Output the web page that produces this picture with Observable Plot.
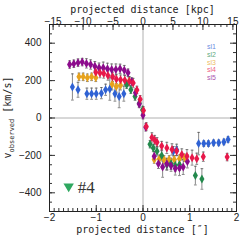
<!DOCTYPE html>
<html><head><meta charset="utf-8">
<script src="https://cdn.jsdelivr.net/npm/d3@7"></script>
<script src="https://cdn.jsdelivr.net/npm/@observablehq/plot@0.6"></script>
<style>
html,body{margin:0;padding:0;background:#fff;}
#c{width:249px;height:249px;overflow:hidden;}
</style></head>
<body><div id="c"></div>
<script>
// ---- data (x in arcsec, v in km/s, e = error) ----
const seriesNames = ["sl1","sl2","sl3","sl4","sl5"];
const seriesColors = ["#2f62d4","#23894c","#e7a21c","#e8184a","#8c0b8c"];

const sl1X = [-1.51,-1.39,-1.20,-1.10,-1.00,-0.89,-0.80,-0.71,-0.60,-0.51,-0.41, 0.65,0.72, 1.19,1.30,1.40,1.51,1.62,1.73,1.82];
const sl1V = [166,151,130,130,130,133,151,155,130,115,130, -178,-170, -137,-137,-137,-133,-133,-128,-115];
const sl1E = [70,40,30,30,30,30,30,60,40,60,40, 25,30, 60,15,15,15,15,15,15];

const sl2X = [-0.35,-0.26,-0.17,-0.08,-0.01, 0.15,0.22,0.30,0.40,0.51,0.60,0.69,0.78, 1.12,1.26];
const sl2V = [178,151,115,79,43, -140,-160,-178,-200,-250,-245,-254,-250, -308,-326];
const sl2E = [20,20,20,20,20, 20,20,25,30,30,30,30,30, 50,55];

const sl3X = [-1.37,-1.28,-1.19,-1.10,-1.01,-0.66,-0.57,-0.48,-0.30, 0.24,0.35,0.45,0.56,0.67,0.78,0.89];
const sl3V = [220,220,215,220,215,180,168,175,195, -222,-218,-222,-222,-222,-218,-213];
const sl3E = [20,20,20,20,20,30,30,25,20, 20,20,20,20,20,20,20];

const sl4X = [-1.01,-0.92,-0.84,-0.75,-0.65,-0.57,-0.48,-0.39,-0.29,-0.21,-0.13,-0.06,0.01,0.07, 0.19,0.25,0.30,0.40,0.51,0.62,0.72,0.83,0.94,1.05,1.15,1.29,1.80];
const sl4V = [245,240,238,227,220,209,205,202,196,187,150,100,40,-45, -104,-118,-130,-150,-160,-168,-177,-195,-204,-212,-218,-207,-209];
const sl4E = [25,25,25,25,25,25,25,25,25,25,20,20,20,20, 25,25,25,25,30,30,25,30,35,40,30,25,20];

const sl5X = [-1.57,-1.48,-1.39,-1.30,-1.21,-1.12,-1.03,-0.94,-0.85,-0.76,-0.67,-0.58,-0.49,-0.40,-0.32,-0.24,-0.16,-0.08,0.00,0.06, 0.24,0.33,0.42,0.51,0.60,0.69,0.78,0.86,0.95];
const sl5V = [286,290,296,299,292,286,277,269,269,263,259,259,263,256,242,195,135,75,15,-50, -205,-245,-262,-245,-255,-270,-268,-262,-232];
const sl5E = [20,20,20,20,25,25,25,25,30,30,30,30,25,25,20,20,20,20,20,20, 25,25,55,30,30,35,40,40,35];

const xTicksMajor = [-2,-1,0,1,2];
const xTicksMinor = d3.range(-20,21).map(i=>i/10);
const kpcPerArcsec = 7.8;
const kpcTicksMajor = [-15,-10,-5,0,5,10,15];
const kpcTicksMinor = d3.range(-15,16);
const yTicksMajor = [-400,-200,0,200,400];
const yTicksMinor = d3.range(-500,501,50);
const markerLabel = ["#4"];
const markerPos = [{x:-1.59, v:-372}];

const xs=[sl1X,sl2X,sl3X,sl4X,sl5X], vs=[sl1V,sl2V,sl3V,sl4V,sl5V], es=[sl1E,sl2E,sl3E,sl4E,sl5E];
const drawOrder = [0,2,1,4,3];
const rows = drawOrder.flatMap(s => xs[s].map((x,i)=>({s:seriesNames[s], x, v:vs[s][i], e:es[s][i]})));

// ---- layout ----
const W=249,H=249, mL=49,mR=13,mT=24,mB=38;
const innerH = H-mT-mB, innerW = W-mL-mR;
const fmt = n => n<0 ? "\u2212"+(-n) : String(n);

const tallDiamond = {draw(ctx,size){const r=Math.sqrt(size/Math.PI);ctx.moveTo(0,-1.5*r);ctx.lineTo(0.85*r,0);ctx.lineTo(0,1.5*r);ctx.lineTo(-0.85*r,0);ctx.closePath();}};
const downTri = {draw(ctx,size){const r=Math.sqrt(size/Math.PI);ctx.moveTo(-r,-0.8*r);ctx.lineTo(r,-0.8*r);ctx.lineTo(0,0.9*r);ctx.closePath();}};

const capW = 0.03;
const plot = Plot.plot({
  width:W, height:H, marginLeft:mL, marginRight:mR, marginTop:mT, marginBottom:mB,
  style:{fontFamily:"'Liberation Sans', Arial, sans-serif", fontSize:"10px", color:"#222", background:"white"},
  x:{domain:[-2,2], axis:null},
  y:{domain:[-500,500], axis:null},
  color:{domain:seriesNames, range:seriesColors},
  marks:[
    Plot.ruleX([0],{stroke:"#b0b0b0", strokeWidth:1}),
    Plot.ruleY([0],{stroke:"#b0b0b0", strokeWidth:1}),
    // ticks (inward)
    Plot.tickX(xTicksMinor,{x:d=>d, insetTop:innerH-3, stroke:"#333"}),
    Plot.tickX(xTicksMajor,{x:d=>d, insetTop:innerH-6, stroke:"#333"}),
    Plot.tickX(kpcTicksMinor,{x:d=>d/kpcPerArcsec, insetBottom:innerH-3, stroke:"#333"}),
    Plot.tickX(kpcTicksMajor,{x:d=>d/kpcPerArcsec, insetBottom:innerH-6, stroke:"#333"}),
    Plot.tickY(yTicksMinor,{y:d=>d, insetRight:innerW-3, stroke:"#333"}),
    Plot.tickY(yTicksMajor,{y:d=>d, insetRight:innerW-6, stroke:"#333"}),
    Plot.tickY(yTicksMinor,{y:d=>d, insetLeft:innerW-3, stroke:"#333"}),
    Plot.tickY(yTicksMajor,{y:d=>d, insetLeft:innerW-6, stroke:"#333"}),
    // error bars
    Plot.ruleX(rows,{x:"x", y1:d=>d.v-d.e, y2:d=>d.v+d.e, stroke:"#444", strokeWidth:0.8, strokeOpacity:0.8}),
    Plot.link(rows,{x1:d=>d.x-capW, x2:d=>d.x+capW, y1:d=>d.v+d.e, y2:d=>d.v+d.e, stroke:"#444", strokeWidth:0.8, strokeOpacity:0.8}),
    Plot.link(rows,{x1:d=>d.x-capW, x2:d=>d.x+capW, y1:d=>d.v-d.e, y2:d=>d.v-d.e, stroke:"#444", strokeWidth:0.8, strokeOpacity:0.8}),
    // points
    Plot.dot(rows,{x:"x", y:"v", fill:"s", symbol:tallDiamond, r:3.0, stroke:"none"}),
    // marker annotation
    Plot.dot(markerPos,{x:"x", y:"v", symbol:downTri, r:5.2, fill:"#2fa860", stroke:"none"}),
    Plot.text(markerPos,{x:"x", y:"v", text:()=>markerLabel[0], dx:9, textAnchor:"start", fontFamily:"'Liberation Serif', serif", fontSize:17, fill:"#333"}),
    Plot.frame({stroke:"#222"}),
    // axes labels
    Plot.axisX({anchor:"bottom", ticks:xTicksMajor, tickSize:0, tickPadding:2, tickFormat:fmt, label:null, fontSize:10}),
    Plot.axisX({anchor:"top", ticks:kpcTicksMajor.map(k=>k/kpcPerArcsec), tickSize:0, tickPadding:0, tickFormat:d=>fmt(Math.round(d*kpcPerArcsec)), label:null, fontSize:10}),
    Plot.axisY({anchor:"left", ticks:yTicksMajor, tickSize:0, tickPadding:8, tickFormat:fmt, label:null, fontSize:10})
  ]
});
document.getElementById("c").appendChild(plot);

const svg = d3.select(plot);
const mono = "'DejaVu Sans Mono', monospace";
svg.append("text").attr("x", mL+innerW/2).attr("y", 13).attr("text-anchor","middle")
  .attr("font-family", mono).attr("font-size", 10).attr("fill","#222").text("projected distance [kpc]");
svg.append("text").attr("x", mL+innerW/2).attr("y", 233).attr("text-anchor","middle")
  .attr("font-family", mono).attr("font-size", 10).attr("fill","#222").text("projected distance [\u2033]");
const yl = svg.append("text").attr("transform", `translate(11,${mT+innerH/2}) rotate(-90)`).attr("text-anchor","middle")
  .attr("font-family", mono).attr("font-size", 10).attr("fill","#222");
yl.append("tspan").text("v");
yl.append("tspan").attr("font-size",7).attr("dy",2.5).text("observed");
yl.append("tspan").attr("dy",-2.5).text(" [km/s]");
// legend
seriesNames.forEach((n,i)=>{
  svg.append("text").attr("x",211.5).attr("y",49+i*7.8).attr("font-family","'Liberation Sans', Arial, sans-serif")
    .attr("font-size",7).attr("fill",seriesColors[i]).attr("fill-opacity",0.75).text(n);
});
</script></body></html>
